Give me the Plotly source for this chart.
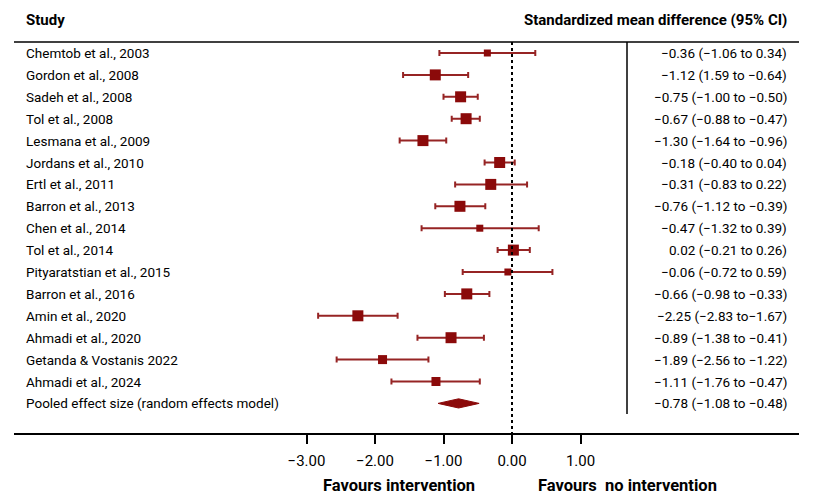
import plotly.graph_objects as go

studies = ["Chemtob et al., 2003", "Gordon et al., 2008", "Sadeh et al., 2008", "Tol et al., 2008",
           "Lesmana et al., 2009", "Jordans et al., 2010", "Ertl et al., 2011", "Barron et al., 2013",
           "Chen et al., 2014", "Tol et al., 2014", "Pityaratstian et al., 2015", "Barron et al., 2016",
           "Amin et al., 2020", "Ahmadi et al., 2020", "Getanda & Vostanis 2022", "Ahmadi et al., 2024"]
smd = [-0.36, -1.12, -0.75, -0.67, -1.30, -0.18, -0.31, -0.76, -0.47, 0.02, -0.06, -0.66, -2.25, -0.89, -1.89, -1.11]
ci_low = [-1.06, -1.59, -1.00, -0.88, -1.64, -0.40, -0.83, -1.12, -1.32, -0.21, -0.72, -0.98, -2.83, -1.38, -2.56, -1.76]
ci_high = [0.34, -0.64, -0.50, -0.47, -0.96, 0.04, 0.22, -0.39, 0.39, 0.26, 0.59, -0.33, -1.67, -0.41, -1.22, -0.47]
ci_text = ["−0.36 (−1.06 to 0.34)", "−1.12 (1.59 to −0.64)", "−0.75 (−1.00 to −0.50)", "−0.67 (−0.88 to −0.47)",
           "−1.30 (−1.64 to −0.96)", "−0.18 (−0.40 to 0.04)", "−0.31 (−0.83 to 0.22)", "−0.76 (−1.12 to −0.39)",
           "−0.47 (−1.32 to 0.39)", "0.02 (−0.21 to 0.26)", "−0.06 (−0.72 to 0.59)", "−0.66 (−0.98 to −0.33)",
           "−2.25 (−2.83 to−1.67)", "−0.89 (−1.38 to −0.41)", "−1.89 (−2.56 to −1.22)", "−1.11 (−1.76 to −0.47)"]
# relative study weights (estimated from square sizes)
weights = [3, 7, 7, 7, 7, 7, 7, 7, 3, 7, 3, 7, 7, 7, 5, 5]
pooled_label = "Pooled effect size (random effects model)"
pooled = [-0.78, -1.08, -0.48]
pooled_text = "−0.78 (−1.08 to −0.48)"
tick_vals = [-3, -2, -1, 0, 1]
tick_text = ["−3.00", "−2.00", "−1.00", "0.00", "1.00"]

# page has an 8px body margin: figure sits at (8, 8) in the window
OFF = 8
W, H = 815 - OFF, 496 - OFF
# plot area in window pixels
PL, PR, PT, PB = 14, 799, OFF, 433
L, R, T, B = PL - OFF, W - (PR - OFF), PT - OFF, H - (PB - OFF)
X0_PX, UNIT_PX = 512, 68.5
ROW0_PX, ROW_PX = 53, 21.9

def px_to_x(px):
    return (px - X0_PX) / UNIT_PX

def px_to_row(py):
    return (py - ROW0_PX) / ROW_PX

def pxx(px):  # window px -> paper x
    return (px - PL) / (PR - PL)

def pyy(py):  # window px -> paper y
    return (PB - py) / (PB - PT)

RED = "#8b0a0a"
BAR = "#962424"
FONT = "Roboto, sans-serif"
FS = 13.5
FSB = 15
FSF = 16.5

rows = list(range(len(studies)))
n = len(studies)

fig = go.Figure()
fig.add_trace(go.Scatter(
    x=smd, y=rows, mode="markers",
    marker=dict(symbol="square", color=RED, opacity=1, size=[4 + w for w in weights], line=dict(width=0)),
    error_x=dict(type="data", symmetric=False,
                 array=[h - m for h, m in zip(ci_high, smd)],
                 arrayminus=[m - l for m, l in zip(smd, ci_low)],
                 color=BAR, thickness=2, width=3),
    showlegend=False, hoverinfo="skip"))

dh = 0.21
fig.add_trace(go.Scatter(
    x=[pooled[1], pooled[0], pooled[2], pooled[0], pooled[1]],
    y=[n, n - dh, n, n + dh, n],
    mode="lines", fill="toself", fillcolor=RED, line=dict(color=RED, width=1),
    showlegend=False, hoverinfo="skip"))

# dashed line at 0
fig.add_shape(type="line", xref="x", yref="paper", x0=0, x1=0, y0=pyy(42), y1=0,
              line=dict(color="black", width=2, dash="3px,3px"))
# header line
fig.add_shape(type="line", xref="paper", yref="paper", x0=0, x1=1, y0=pyy(42), y1=pyy(42),
              line=dict(color="black", width=1.5))
# vertical separator
fig.add_shape(type="line", xref="paper", yref="paper", x0=pxx(627), x1=pxx(627), y0=pyy(42), y1=pyy(414),
              line=dict(color="black", width=1.5))

ann = []
ann.append(dict(text="<b>Study</b>", x=pxx(24), y=pyy(20), xanchor="left", yanchor="middle",
                font=dict(size=FSB, family=FONT, color="black")))
ann.append(dict(text="<b>Standardized mean difference (95% CI)</b>", x=pxx(789), y=pyy(20),
                xanchor="right", yanchor="middle", font=dict(size=FSB, family=FONT, color="black")))
for i, (s, t) in enumerate(zip(studies, ci_text)):
    ann.append(dict(text=s, x=pxx(24), y=pyy(ROW0_PX + ROW_PX * i), xanchor="left", yanchor="middle",
                    font=dict(size=FS, family=FONT, color="black")))
    ann.append(dict(text=t, x=pxx(789), y=pyy(ROW0_PX + ROW_PX * i), xanchor="right", yanchor="middle",
                    font=dict(size=FS, family=FONT, color="black")))
ann.append(dict(text=pooled_label, x=pxx(24), y=pyy(ROW0_PX + ROW_PX * n), xanchor="left", yanchor="middle",
                font=dict(size=FS, family=FONT, color="black")))
ann.append(dict(text=pooled_text, x=pxx(789), y=pyy(ROW0_PX + ROW_PX * n), xanchor="right", yanchor="middle",
                font=dict(size=FS, family=FONT, color="black")))
ann.append(dict(text="<b>Favours intervention</b>", x=pxx(399), y=pyy(485), xanchor="center", yanchor="middle",
                font=dict(size=FSF, family=FONT, color="black")))
ann.append(dict(text="<b>Favours&nbsp; no intervention</b>", x=pxx(627), y=pyy(485), xanchor="center",
                yanchor="middle", font=dict(size=FSF, family=FONT, color="black")))
for a in ann:
    a.update(xref="paper", yref="paper", showarrow=False)

fig.update_layout(
    width=W, height=H, margin=dict(l=L, r=R, t=T, b=B),
    paper_bgcolor="white", plot_bgcolor="white",
    annotations=ann,
    xaxis=dict(range=[px_to_x(PL), px_to_x(PR)], tickvals=tick_vals, ticktext=tick_text,
               showgrid=False, zeroline=False, showline=True, linecolor="black", linewidth=1.5,
               ticks="outside", ticklen=9, tickwidth=1.5, tickcolor="black", ticklabelstandoff=4,
               tickfont=dict(size=15, family=FONT, color="black")),
    yaxis=dict(range=[px_to_row(PB), px_to_row(PT)], showgrid=False, zeroline=False,
               showticklabels=False, showline=False, ticks=""),
)
fig.write_html("out.html")
